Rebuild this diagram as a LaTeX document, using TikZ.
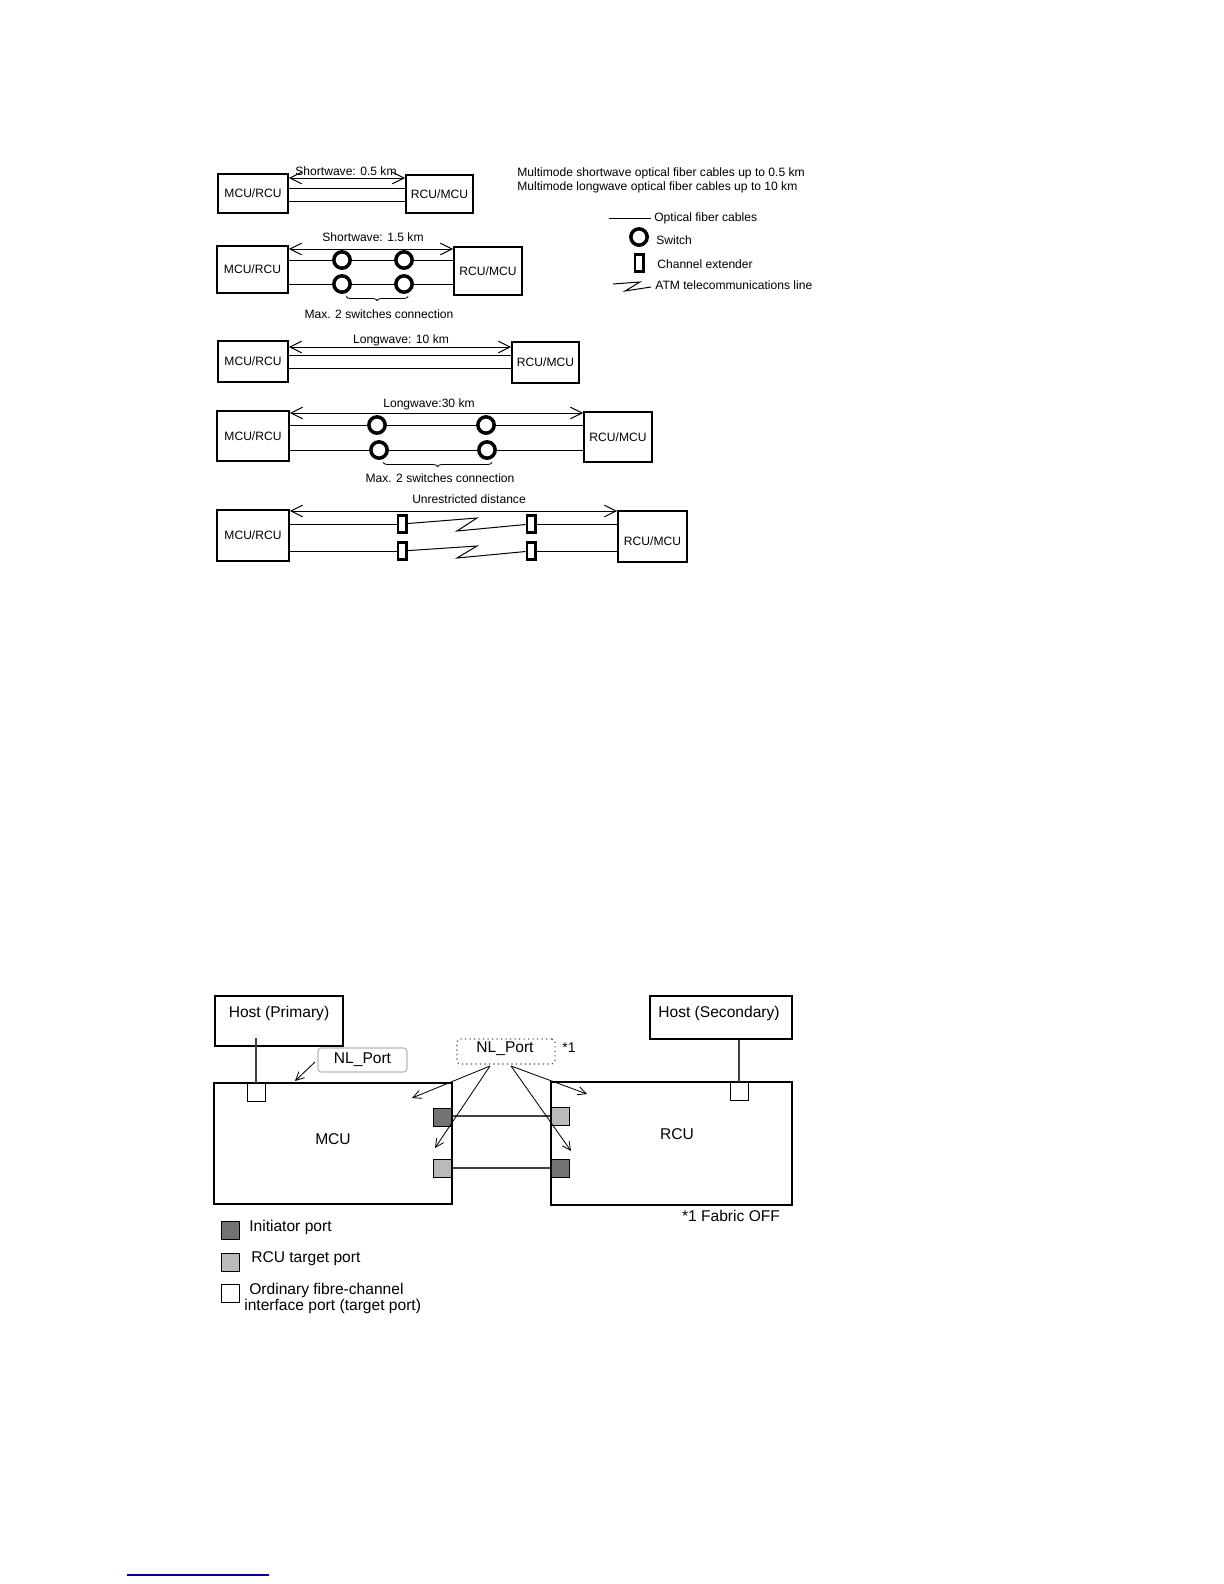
\documentclass[tikz,border=0pt]{standalone}
\usepackage{fontspec}
\setmainfont{Liberation Sans}
\usetikzlibrary{arrows.meta,decorations.pathreplacing}
\newcommand{\smalltxt}{\fontsize{7.25}{8}\selectfont}
\newcommand{\bigtxt}{\fontsize{9.35}{10}\selectfont}
\tikzstyle{unit} = [draw, line width=1.1pt, rectangle, inner sep=0pt, font=\smalltxt]
\tikzstyle{label} = [inner sep=0pt, font=\smalltxt]
\tikzstyle{biglabel} = [inner sep=0pt, font=\bigtxt]
\tikzstyle{cable} = [line width=0.6pt]
\tikzstyle{link} = [line width=0.7pt, black!75]
\tikzstyle{span} = [line width=0.6pt, {Straight Barb[length=7pt,width=7pt]}-{Straight Barb[length=7pt,width=7pt]}]
\tikzstyle{switch} = [draw, circle, line width=2.1pt, fill=white, minimum size=9.8pt, inner sep=0pt]
\tikzstyle{extender} = [draw, rectangle, line width=1.6pt, fill=white, minimum width=5pt, minimum height=10.5pt, inner sep=0pt]
\tikzstyle{span brace} = [line width=0.5pt, decorate, decoration={brace, mirror, amplitude=2.5pt, raise=1.5pt}]
\tikzstyle{site} = [draw, line width=1.3pt, rectangle, inner sep=0pt, font=\bigtxt]
\tikzstyle{port} = [draw, line width=0.5pt, rectangle, inner sep=0pt, minimum width=10.8pt, minimum height=11pt]
\tikzstyle{initiator} = [port, fill=black!55]
\tikzstyle{target} = [port, fill=black!27]
\tikzstyle{callout} = [line width=0.5pt, -{Straight Barb[length=5pt,width=5pt]}]
\tikzstyle{portnote} = [draw=gray!55, rounded corners=2pt, line width=0.7pt, inner sep=0pt, font=\bigtxt]
\begin{document}
\begin{tikzpicture}[x=0.6pt,y=-0.6pt]
	\useasboundingbox (0,0) rectangle (1224,1584);

	\node [unit, minimum width=42pt, minimum height=23.4pt] (mcuA) at (253,193.5) {MCU/RCU};
	\node [unit, minimum width=40.2pt, minimum height=22.8pt] (rcuA) at (439.5,194) {RCU/MCU};
	\node [label] (waveA) at (346,171) {Shortwave: 0.5 km};
	\draw [span] (mcuA.east |- 0,178) -- (rcuA.west |- 0,178);
	\draw [cable] (mcuA.east |- 0,188) -- (rcuA.west |- 0,188);
	\draw [cable] (mcuA.east |- 0,201) -- (rcuA.west |- 0,201);

	\node [unit, minimum width=42.6pt, minimum height=28.2pt] (mcuB) at (252.5,269.5) {MCU/RCU};
	\node [unit, minimum width=40.8pt, minimum height=28.8pt] (rcuB) at (488,271) {RCU/MCU};
	\node [label] (waveB) at (373,237) {Shortwave: 1.5 km};
	\node [switch] (swBa) at (342,260) {};
	\node [switch] (swBb) at (404,260) {};
	\node [switch] (swBc) at (342,284) {};
	\node [switch] (swBd) at (404,284) {};
	\node [label] (maxB) at (379,314) {Max. 2 switches connection};
	\draw [span] (mcuB.east |- 0,249) -- (rcuB.west |- 0,249);
	\draw [cable] (mcuB.east |- swBa) -- (swBa) -- (swBb) -- (rcuB.west |- swBb);
	\draw [cable] (mcuB.east |- swBc) -- (swBc) -- (swBd) -- (rcuB.west |- swBd);
	\draw [span brace] ([xshift=2.5pt]swBc.south) -- ([xshift=2.5pt]swBd.south);

	\node [unit, minimum width=42pt, minimum height=24.6pt] (mcuC) at (253,361.5) {MCU/RCU};
	\node [unit, minimum width=40.2pt, minimum height=24.6pt] (rcuC) at (545.5,362.5) {RCU/MCU};
	\node [label] (waveC) at (401,340) {Longwave: 10 km};
	\draw [span] (mcuC.east |- 0,347) -- (rcuC.west |- 0,347);
	\draw [cable] (mcuC.east |- 0,355) -- (rcuC.west |- 0,355);
	\draw [cable] (mcuC.east |- 0,368) -- (rcuC.west |- 0,368);

	\node [unit, minimum width=43.2pt, minimum height=30pt] (mcuD) at (253,436) {MCU/RCU};
	\node [unit, minimum width=40.8pt, minimum height=30pt] (rcuD) at (618,437) {RCU/MCU};
	\node [label] (waveD) at (429,404) {Longwave:30 km};
	\node [switch] (swDa) at (377,425) {};
	\node [switch] (swDb) at (486,425) {};
	\node [switch] (swDc) at (379,450) {};
	\node [switch] (swDd) at (487,450) {};
	\node [label] (maxD) at (440,478) {Max. 2 switches connection};
	\draw [span] (mcuD.east |- 0,413) -- (rcuD.west |- 0,413);
	\draw [cable] (mcuD.east |- swDa) -- (swDa) -- (swDb) -- (rcuD.west |- swDb);
	\draw [cable] (mcuD.east |- swDc) -- (swDc) -- (swDd) -- (rcuD.west |- swDd);
	\draw [span brace] ([xshift=2.5pt]swDc.south) -- ([xshift=3pt]swDd.south);

	\node [unit, minimum width=43.2pt, minimum height=30.6pt] (mcuE) at (253,535.5) {MCU/RCU};
	\node [unit, minimum width=41.4pt, minimum height=30.6pt] (rcuE) at (652.5,536.5) {};
	\node [label] (rcuETxt) at (652.5,541) {RCU/MCU};
	\node [label] (waveE) at (469,499) {Unrestricted distance};
	\node [extender] (extEa) at (402,524) {};
	\node [extender] (extEb) at (531,524) {};
	\node [extender] (extEc) at (402,551) {};
	\node [extender] (extEd) at (531,551) {};
	\draw [span] (mcuE.east |- 0,511) -- (rcuE.west |- 0,511);
	\draw [cable] (mcuE.east |- extEa) -- (extEa);
	\draw [cable] (extEb) -- (rcuE.west |- extEb);
	\draw [cable] (mcuE.east |- extEc) -- (extEc);
	\draw [cable] (extEd) -- (rcuE.west |- extEd);
	\draw [cable] (extEa) -- (477,518) -- (457,531) -- (extEb);
	\draw [cable] (extEc) -- (477,546) -- (457,558) -- (extEd);

	\node [label, anchor=west] (modeA) at (517,173) {Multimode shortwave optical fiber cables up to 0.5 km};
	\node [label, anchor=west] (modeB) at (517,187) {Multimode longwave optical fiber cables up to 10 km};
	\coordinate (fibreL) at (609,218);
	\coordinate (fibreR) at (651,218);
	\node [label, anchor=west] (keyFibre) at (654,218) {Optical fiber cables};
	\draw [cable] (fibreL) -- (fibreR);
	\node [switch] (keySwitch) at (639,237) {};
	\node [label, anchor=west] (keySwitchTxt) at (656,240) {Switch};
	\node [extender] (keyExt) at (639,263) {};
	\node [label, anchor=west] (keyExtTxt) at (657,264) {Channel extender};
	\node [label, anchor=west] (keyAtm) at (655,285) {ATM telecommunications line};
	\coordinate (atmL) at (613,284);
	\coordinate (atmR) at (651,287);
	\draw [cable] (atmL) -- (640,282) -- (625,291) -- (atmR);

	\node [site, minimum width=76.8pt, minimum height=30pt] (hostP) at (279,1021) {};
	\node [biglabel] (hostPTxt) at (279,1013) {Host (Primary)};
	\node [site, minimum width=85.2pt, minimum height=25.8pt] (hostS) at (721,1017.5) {};
	\node [biglabel] (hostSTxt) at (719,1013) {Host (Secondary)};
	\node [site, minimum width=142.8pt, minimum height=72.6pt] (mcu) at (333,1143.5) {};
	\node [biglabel] (mcuTxt) at (333,1139) {MCU};
	\node [site, minimum width=144.6pt, minimum height=73.8pt] (rcu) at (671.5,1143.5) {};
	\node [biglabel] (rcuTxt) at (677,1134) {RCU};

	\node [port, anchor=north] (portP) at (256,1083) {};
	\node [port, anchor=north] (portS) at (739,1082) {};
	\draw [link] (portP.north |- 0,1038) -- (portP.north);
	\draw [link] (hostS.south -| portS) -- (portS.north);
	\node [initiator, anchor=north east] (portA) at (452,1108) {};
	\node [target, anchor=north east] (portB) at (452,1159) {};
	\node [target, anchor=north west] (portC) at (551,1107) {};
	\node [initiator, anchor=north west] (portD) at (551,1159) {};
	\draw [link] (mcu.east |- 0,1116) -- (rcu.west |- 0,1116);
	\draw [link] (mcu.east |- 0,1168) -- (rcu.west |- 0,1168);

	\node [portnote, minimum width=53.4pt, minimum height=14.4pt] (nlA) at (362.5,1060) {NL\_Port};
	\node [portnote, dotted, draw=black!70, minimum width=58.8pt, minimum height=15pt] (nlB) at (506,1051.5) {};
	\node [biglabel] (nlBTxt) at (505,1049) {NL\_Port};
	\node [inner sep=0pt, font=\fontsize{8.4}{10}\selectfont] (nlBMark) at (569,1048) {*1};
	\coordinate (fromA) at (315,1062);
	\coordinate (toA) at (295,1081);
	\coordinate (tapL) at (490,1066);
	\coordinate (tapR) at (511,1066);
	\coordinate (toB) at (412,1098);
	\coordinate (toC) at (435,1148);
	\coordinate (toD) at (587,1094);
	\coordinate (toE) at (571,1151);
	\draw [callout] (fromA) -- (toA);
	\draw [callout] (tapL) -- (toB);
	\draw [callout] (tapL) -- (toC);
	\draw [callout] (tapR) -- (toD);
	\draw [callout] (tapR) -- (toE);
	\node [biglabel] (fabric) at (731,1216) {*1 Fabric OFF};

	\node [initiator, anchor=north west] (keyA) at (221,1221) {};
	\node [biglabel, anchor=west] (keyATxt) at (249,1227) {Initiator port};
	\node [target, anchor=north west] (keyB) at (221,1253) {};
	\node [biglabel, anchor=west] (keyBTxt) at (251,1259) {RCU target port};
	\node [port, anchor=north west] (keyC) at (221,1284) {};
	\node [biglabel, anchor=west] (keyCTxt) at (249,1290) {Ordinary fibre-channel};
	\node [biglabel, anchor=west] (keyDTxt) at (244,1306) {interface port (target port)};

	\coordinate (ruleL) at (127,1575);
	\coordinate (ruleR) at (269,1575);
	\draw [line width=0.8pt, blue!55!black] (ruleL) -- (ruleR);
\end{tikzpicture}
\end{document}
